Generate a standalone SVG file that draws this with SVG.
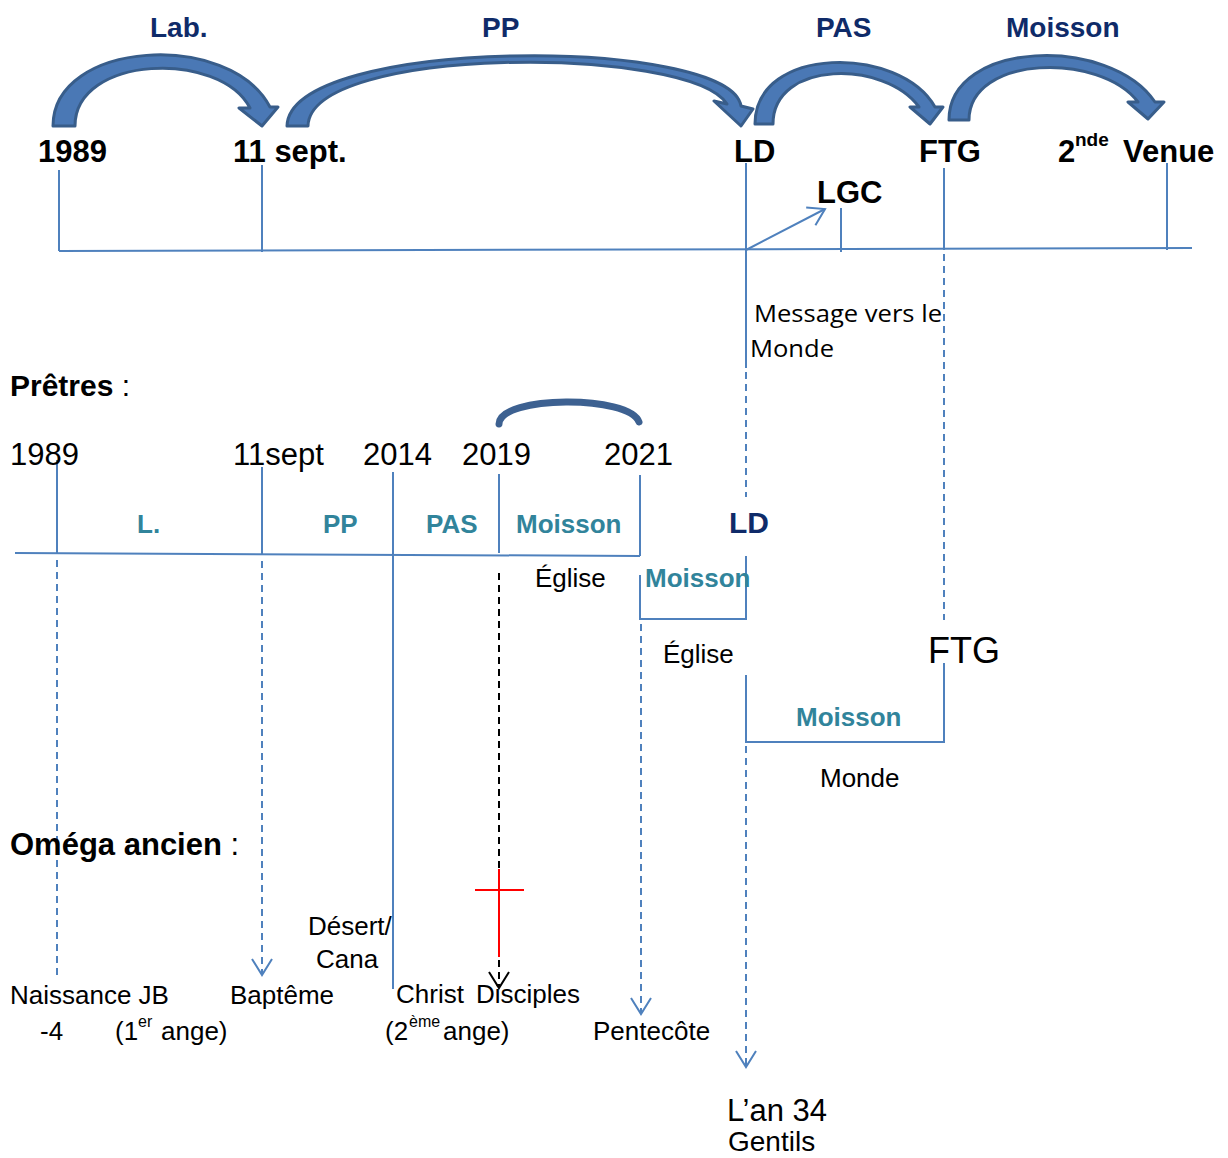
<svg xmlns="http://www.w3.org/2000/svg" width="1228" height="1158" viewBox="0 0 1228 1158">
<style>
text{font-family:"Liberation Sans",Arial,sans-serif;fill:#000}
.b{font-weight:bold}
.t31{font-size:31px}
.t26{font-size:26px}
.sup{font-size:16px}
.navy{fill:#0F2B69;font-weight:bold;font-size:28px}
.teal{fill:#31849B;font-weight:bold;font-size:26px}
.ln{stroke:#4F81BD;stroke-width:2;fill:none}
.dash{stroke-dasharray:7 5}
.kdash{stroke:#000;stroke-width:2;fill:none;stroke-dasharray:7 5}
.arc{fill:#4A78B5;stroke:#385D8A;stroke-width:3;stroke-linejoin:round}
.cal{font-family:"Open Sans","Noto Sans",sans-serif;font-size:24px}
</style>
<defs>
<marker id="vb" markerUnits="userSpaceOnUse" markerWidth="24" markerHeight="24" refX="18" refY="12" orient="auto">
<path d="M2,2 L18,12 L2,22" fill="none" stroke="#4F81BD" stroke-width="2" stroke-dasharray="none"/>
</marker>
<marker id="vk" markerUnits="userSpaceOnUse" markerWidth="24" markerHeight="24" refX="18" refY="12" orient="auto">
<path d="M2,2 L18,12 L2,22" fill="none" stroke="#000" stroke-width="2" stroke-dasharray="none"/>
</marker>
</defs>

<g id="top-arrows">
<path class="arc" d="M53,126 C53,40 230,30 270,107 L278,107 L262,126 L239,108 L250,108 C220,50 75,55 75,126 Z"/>
<path class="arc" d="M287,126 C290,36 730,36 741,106 L753,109 L741,126 L714,101 L727,104 C690,45 310,45 308,126 Z"/>
<path class="arc" d="M755,124 C755,45 900,45 935,107 L943,107 L930,124 L910,107 L919,107 C885,60 773,60 773,124 Z"/>
<path class="arc" d="M949,120 C949,40 1110,35 1155,102 L1164,102 L1148,119 L1128,102 L1138,102 C1100,52 969,55 969,120 Z"/>
</g>

<g id="connectors">
<line class="ln" x1="59" y1="251" x2="1192" y2="248"/>
<line class="ln" x1="59" y1="170" x2="59" y2="251"/>
<line class="ln" x1="262" y1="165" x2="262" y2="252"/>
<line class="ln" x1="746" y1="163" x2="746" y2="368"/>
<line class="ln dash" x1="746" y1="372" x2="746" y2="497"/>
<line class="ln" x1="841" y1="208" x2="841" y2="252"/>
<line class="ln" x1="944" y1="168" x2="944" y2="250"/>
<line class="ln dash" x1="944" y1="254" x2="944" y2="620"/>
<line class="ln" x1="1167" y1="163" x2="1167" y2="250"/>
<line class="ln" x1="746" y1="250" x2="825" y2="209" marker-end="url(#vb)"/>
<line class="ln" x1="15" y1="553" x2="640" y2="556"/>
<line class="ln" x1="57" y1="460" x2="57" y2="553"/>
<line class="ln dash" x1="57" y1="560" x2="57" y2="975"/>
<line class="ln" x1="262" y1="467" x2="262" y2="555"/>
<line class="ln dash" x1="262" y1="561" x2="262" y2="975" marker-end="url(#vb)"/>
<line class="ln" x1="393" y1="472" x2="393" y2="989"/>
<line class="ln" x1="499" y1="474" x2="499" y2="553"/>
<line class="ln" x1="640" y1="475" x2="640" y2="556"/>
<path class="ln" d="M640,575 L640,619 L746,619 L746,556"/>
<line class="ln dash" x1="641" y1="624" x2="641" y2="1014" marker-end="url(#vb)"/>
<path class="ln" d="M746,675 L746,742 L944,742 L944,663"/>
<line class="ln dash" x1="746" y1="746" x2="746" y2="1067" marker-end="url(#vb)"/>
<line class="kdash" x1="499" y1="573" x2="499" y2="868"/>
<line class="kdash" x1="499" y1="960" x2="499" y2="988" marker-end="url(#vk)"/>
<line x1="499" y1="869" x2="499" y2="957" stroke="#FF0000" stroke-width="2"/>
<line x1="475" y1="890" x2="524" y2="890" stroke="#FF0000" stroke-width="2"/>
<path d="M499,424 C500,395 630,395 639,422" fill="none" stroke="#3D6191" stroke-width="7" stroke-linecap="round"/>
</g>

<g id="top-labels">
<text class="navy" x="150" y="37">Lab.</text>
<text class="navy" x="482" y="37">PP</text>
<text class="navy" x="816" y="37">PAS</text>
<text class="navy" x="1006" y="37">Moisson</text>
</g>

<g id="top-nodes">
<text class="b t31" x="38" y="162">1989</text>
<text class="b t31" x="233" y="162">11 sept.</text>
<text class="b t31" x="734" y="162">LD</text>
<text class="b t31" x="919" y="162">FTG</text>
<text class="b t31" x="1058" y="162">2</text>
<text class="b" x="1075" y="146" font-size="19">nde</text>
<text class="b t31" x="1123" y="162">Venue</text>
<text class="b t31" x="817" y="203">LGC</text>
<text class="cal" x="754" y="322" textLength="188" lengthAdjust="spacingAndGlyphs">Message vers le</text>
<text class="cal" x="750" y="357" textLength="84" lengthAdjust="spacingAndGlyphs">Monde</text>
</g>

<g id="pretres">
<text x="10" y="396" font-size="30"><tspan font-weight="bold">Prêtres</tspan> :</text>
<text class="t31" x="10" y="465">1989</text>
<text class="t31" x="233" y="465">11sept</text>
<text class="t31" x="363" y="465">2014</text>
<text class="t31" x="462" y="465">2019</text>
<text class="t31" x="604" y="465">2021</text>
<text class="teal" x="137" y="533">L.</text>
<text class="teal" x="323" y="533">PP</text>
<text class="teal" x="426" y="533">PAS</text>
<text class="teal" x="516" y="533">Moisson</text>
<text class="b" x="729" y="533" font-size="30" style="fill:#0F2B69">LD</text>
<text class="t26" x="535" y="587">Église</text>
<text class="teal" x="645" y="587">Moisson</text>
<text class="t26" x="663" y="663">Église</text>
<text x="928" y="663" font-size="36">FTG</text>
<text class="teal" x="796" y="726">Moisson</text>
<text class="t26" x="820" y="787">Monde</text>
</g>

<g id="omega">
<text x="10" y="855" font-size="31"><tspan font-weight="bold">Oméga ancien</tspan> :</text>
<text class="t26" x="308" y="935">Désert/</text>
<text class="t26" x="316" y="968">Cana</text>
<text class="t26" x="10" y="1004">Naissance JB</text>
<text class="t26" x="230" y="1004">Baptême</text>
<text class="t26" x="396" y="1003">Christ</text>
<text class="t26" x="476" y="1003">Disciples</text>
<text class="t26" x="40" y="1040">-4</text>
<text class="t26" x="115" y="1040">(1</text>
<text class="sup" x="138" y="1027">er</text>
<text class="t26" x="161" y="1040">ange)</text>
<text class="t26" x="385" y="1040">(2</text>
<text class="sup" x="409" y="1027">ème</text>
<text class="t26" x="443" y="1040">ange)</text>
<text class="t26" x="593" y="1040">Pentecôte</text>
<text class="t31" x="727" y="1121">L’an 34</text>
<text x="728" y="1151" font-size="28">Gentils</text>
</g>
</svg>
